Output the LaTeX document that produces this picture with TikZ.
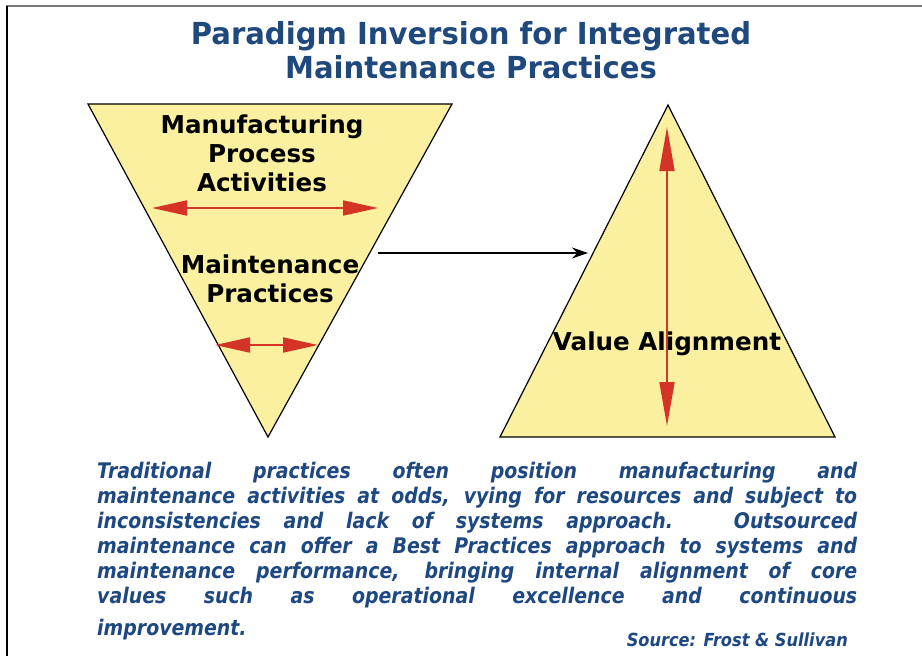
\documentclass[tikz,border=0pt]{standalone}
\usepackage{fontspec}
\setmainfont{DejaVu Sans}
\newfontfamily\titlefont{DejaVu Sans}[FakeStretch=0.96]
\newfontfamily\bodyfont{DejaVu Sans}[FakeStretch=0.88]
\newfontfamily\notefont{DejaVu Sans}[FakeStretch=0.9]
\usetikzlibrary{arrows.meta}
\definecolor{titleblue}{RGB}{31,73,125}
\definecolor{textblue}{RGB}{30,72,130}
\definecolor{pyrfill}{RGB}{250,240,160}
\definecolor{arrowred}{RGB}{212,52,38}
\definecolor{framegray}{RGB}{120,120,120}
\tikzset{
  pyramid/.style={draw=black, line width=1.2pt, fill=pyrfill, line join=miter},
  label/.style={font=\fontsize{24.6}{29}\selectfont\bfseries, align=center, inner sep=0pt, text=black},
  redarrow/.style={draw=arrowred, line width=1.8pt,
    {Triangle[length=35pt,width=15pt]}-{Triangle[length=35pt,width=15pt]}},
  vredarrow/.style={draw=arrowred, line width=1.8pt,
    {Triangle[length=44pt,width=15pt]}-{Triangle[length=44pt,width=15pt]}},
  linkarrow/.style={draw=black, line width=1.6pt, -{Stealth[length=16pt,width=11pt]}},
  bodyline/.style={font=\bodyfont\fontsize{21.5}{25}\selectfont\bfseries\itshape, text=textblue,
    anchor=base west, inner sep=0pt},
}
\newcommand{\bodyrow}[1]{\makebox[760pt][s]{\spaceskip=0.22em plus 30em minus 0.1em #1}}
\begin{document}
\begin{tikzpicture}[x=1pt,y=-1pt]
\useasboundingbox (0,0) rectangle (922,656);
\fill[white] (0,0) rectangle (922,656);

% page frame: top and left rules
\draw[framegray, line width=1.6pt] (6,6) -- (922,6);
\draw[black, line width=1.4pt] (7,6) -- (7,656);

% title
\node[font=\titlefont\fontsize{30.3}{34}\selectfont\bfseries, text=titleblue, align=center]
  (title) at (471,50) {Paradigm Inversion for Integrated\\Maintenance Practices};

% inverted pyramid
\path[pyramid] (88,104) -- (452,104) -- (268,437) -- cycle;
% upright pyramid
\path[pyramid] (668,105) -- (835,437) -- (500,437) -- cycle;

% labels in the inverted pyramid
\node[label] (mfg) at (262,153) {Manufacturing\\Process\\Activities};
\node[label] (mnt) at (270,279) {Maintenance\\Practices};
% label in the upright pyramid
\node[label] (val) at (667,344) {Value Alignment};

% red spread arrows
\coordinate (topL) at (152,208);
\coordinate (topR) at (378,208);
\draw[redarrow] (topL) -- (topR);
\coordinate (botL) at (215,345);
\coordinate (botR) at (318,345);
\draw[redarrow] (botL) -- (botR);
\coordinate (vTop) at (667,127);
\coordinate (vBot) at (667,426);
\draw[vredarrow] (vTop) -- (vBot);

% link between the two pyramids
\coordinate (linkA) at (378,253);
\coordinate (linkB) at (588,253);
\draw[linkarrow] (linkA) -- (linkB);

% body text
\node[bodyline] (l1) at (97,478) {\bodyrow{Traditional practices often position manufacturing and}};
\node[bodyline] (l2) at (97,503) {\bodyrow{maintenance activities at odds, vying for resources and subject to}};
\node[bodyline] (l3) at (97,528) {\bodyrow{inconsistencies and lack of systems approach. Outsourced}};
\node[bodyline] (l4) at (97,553) {\bodyrow{maintenance can offer a Best Practices approach to systems and}};
\node[bodyline] (l5) at (97,578) {\bodyrow{maintenance performance, bringing internal alignment of core}};
\node[bodyline] (l6) at (97,603) {\bodyrow{values such as operational excellence and continuous}};
\node[bodyline] (l7) at (97,635) {improvement.};

% source note
\node[font=\notefont\fontsize{18}{22}\selectfont\bfseries\itshape, text=textblue, anchor=base east, inner sep=0pt]
  (src) at (848,646) {Source: Frost \& Sullivan};
\end{tikzpicture}
\end{document}
